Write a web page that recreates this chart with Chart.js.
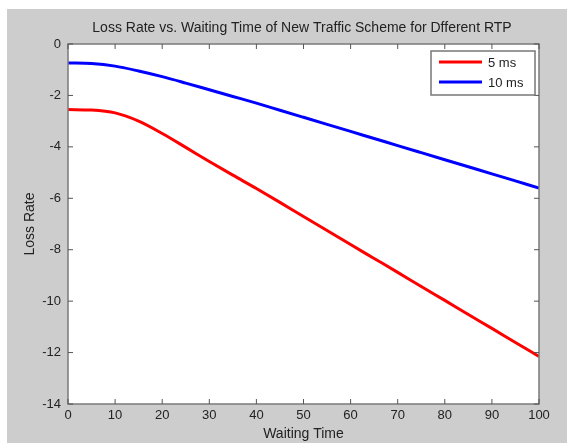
<!DOCTYPE html>
<html>
<head>
<meta charset="utf-8">
<script src="https://cdn.jsdelivr.net/npm/chart.js@4.4.0/dist/chart.umd.min.js"></script>
<style>
  html, body { margin: 0; padding: 0; background: #fff; }
  #wrap { width: 567px; height: 443px; }
</style>
</head>
<body>
<div id="wrap"><canvas id="chartLoss" width="567" height="443"></canvas></div>
<script>
const waitTimes = [0, 5, 10, 15, 20, 25, 30, 35, 40, 45, 50, 55, 60, 65, 70, 75, 80, 85, 90, 95, 100];
const loss5ms = [-2.55, -2.57, -2.68, -3.0, -3.48, -4.02, -4.57, -5.1, -5.62, -6.16, -6.71, -7.25, -7.8, -8.34, -8.88, -9.43, -9.97, -10.52, -11.06, -11.61, -12.15];
const loss10ms = [-0.74, -0.76, -0.86, -1.05, -1.27, -1.52, -1.78, -2.04, -2.3, -2.575, -2.85, -3.125, -3.4, -3.675, -3.95, -4.225, -4.5, -4.775, -5.05, -5.325, -5.6];
const seriesLabels = ['5 ms', '10 ms'];
const titleText = 'Loss Rate vs. Waiting Time of New Traffic Scheme for Dfferent RTP';

const font = 'Liberation Sans, Arial, sans-serif';

const toPoints = (ys) => ys.map((y, i) => ({ x: waitTimes[i], y: y }));

const dataLoss = {
  datasets: [{
    label: seriesLabels[0],
    data: toPoints(loss5ms),
    borderColor: '#ff0000',
    backgroundColor: '#ff0000',
    borderWidth: 3,
    pointRadius: 0,
    cubicInterpolationMode: 'monotone'
  }, {
    label: seriesLabels[1],
    data: toPoints(loss10ms),
    borderColor: '#0000ff',
    backgroundColor: '#0000ff',
    borderWidth: 3,
    pointRadius: 0,
    cubicInterpolationMode: 'monotone'
  }]
};

// gray figure, white axes box, inward ticks, legend and title (matlab look)
const matlabFrame = {
  id: 'matlabFrame',
  beforeDraw(chart) {
    const c = chart.ctx, a = chart.chartArea;
    c.save();
    c.fillStyle = '#fff';
    c.fillRect(0, 0, chart.width, chart.height);
    c.fillStyle = '#cdcdcd';
    c.fillRect(7, 9, chart.width - 7, chart.height - 9);
    c.fillStyle = '#fff';
    c.fillRect(a.left, a.top, a.right - a.left, a.bottom - a.top);
    c.restore();
  },
  afterDraw(chart) {
    const c = chart.ctx, a = chart.chartArea;
    const xs = chart.scales.x, ys = chart.scales.y;
    c.save();
    c.strokeStyle = '#7a7a7a';
    c.lineWidth = 1.5;
    c.strokeRect(a.left, a.top, a.right - a.left, a.bottom - a.top);
    c.lineWidth = 1;
    c.strokeStyle = '#555';
    c.beginPath();
    xs.ticks.forEach(t => {
      const px = xs.getPixelForValue(t.value);
      c.moveTo(px, a.bottom); c.lineTo(px, a.bottom - 5);
      c.moveTo(px, a.top); c.lineTo(px, a.top + 5);
    });
    ys.ticks.forEach(t => {
      const py = ys.getPixelForValue(t.value);
      c.moveTo(a.left, py); c.lineTo(a.left + 5, py);
      c.moveTo(a.right, py); c.lineTo(a.right - 5, py);
    });
    c.stroke();

    // title
    c.fillStyle = '#222';
    c.font = '14px ' + font;
    c.textAlign = 'center';
    c.textBaseline = 'middle';
    c.fillText(titleText, 302, 28);

    // legend
    const lx = 431, ly = 51, lw = 104, lh = 44;
    c.fillStyle = '#fff';
    c.fillRect(lx, ly, lw, lh);
    c.strokeStyle = '#777';
    c.lineWidth = 1.5;
    c.strokeRect(lx, ly, lw, lh);
    c.font = '13px ' + font;
    c.textAlign = 'left';
    chart.data.datasets.forEach((ds, i) => {
      const y = 62 + i * 20;
      c.strokeStyle = ds.borderColor;
      c.lineWidth = 3;
      c.beginPath();
      c.moveTo(439, y); c.lineTo(482, y);
      c.stroke();
      c.fillStyle = '#222';
      c.fillText(ds.label, 488, y + 1);
    });
    c.restore();
  }
};

const optionsLoss = {
  responsive: false,
  animation: false,
  layout: { padding: { left: 0, top: 44, right: 28, bottom: 0 } },
  scales: {
    x: {
      type: 'linear',
      min: 0,
      max: 100,
      afterFit: (s) => { s.height = 39; },
      ticks: { stepSize: 10, color: '#222', padding: 4, maxRotation: 0, font: { family: font, size: 13 } },
      grid: { display: false, drawTicks: false },
      border: { display: false },
      title: { display: true, text: 'Waiting Time', color: '#222', padding: { top: 0, bottom: 0 }, font: { family: font, size: 14 } }
    },
    y: {
      min: -14,
      max: 0,
      afterFit: (s) => { s.width = 68; },
      ticks: { stepSize: 2, color: '#222', padding: 7, font: { family: font, size: 13 } },
      grid: { display: false, drawTicks: false },
      border: { display: false },
      title: { display: true, text: 'Loss Rate', color: '#222', padding: { top: 22, bottom: 0 }, font: { family: font, size: 14 } }
    }
  },
  plugins: {
    legend: { display: false },
    title: { display: false },
    tooltip: { enabled: false }
  }
};

const ctxLoss = document.getElementById('chartLoss');

new Chart(ctxLoss, {
  type: 'line',
  data: dataLoss,
  options: optionsLoss,
  plugins: [matlabFrame]
});
</script>
</body>
</html>
